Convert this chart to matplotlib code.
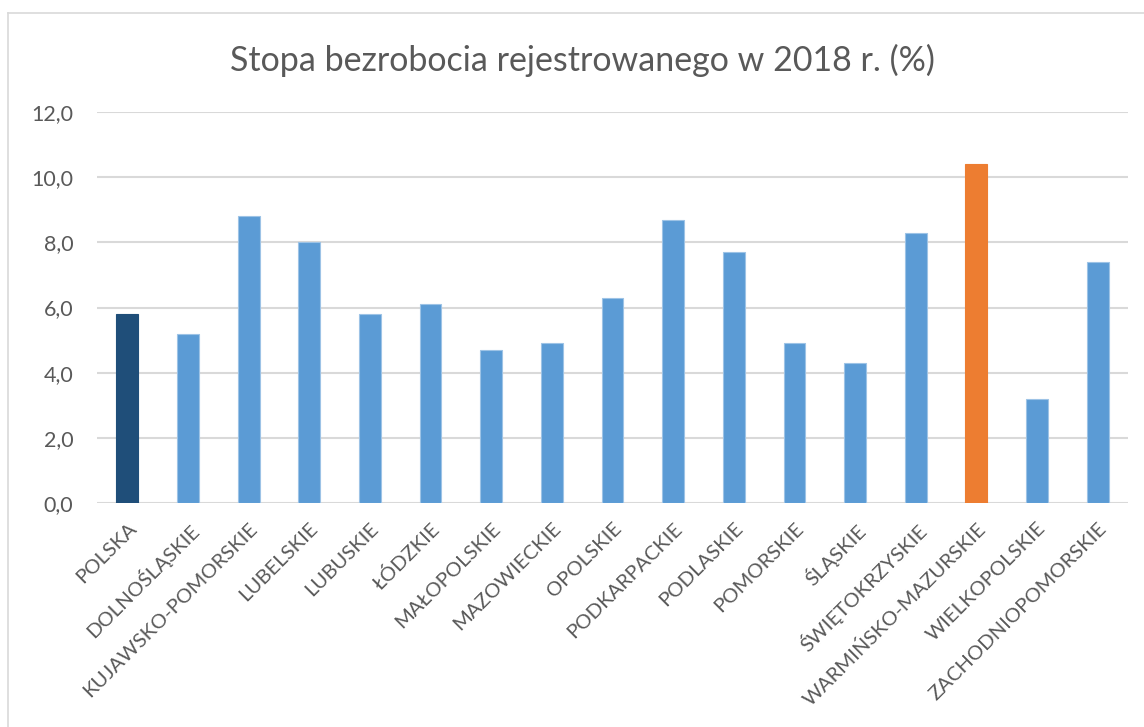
import matplotlib
matplotlib.use("Agg")
import matplotlib.pyplot as plt
from matplotlib.lines import Line2D

categories = ["POLSKA", "DOLNOŚLĄSKIE", "KUJAWSKO-POMORSKIE", "LUBELSKIE", "LUBUSKIE",
              "ŁÓDZKIE", "MAŁOPOLSKIE", "MAZOWIECKIE", "OPOLSKIE", "PODKARPACKIE",
              "PODLASKIE", "POMORSKIE", "ŚLĄSKIE", "ŚWIĘTOKRZYSKIE", "WARMIŃSKO-MAZURSKIE",
              "WIELKOPOLSKIE", "ZACHODNIOPOMORSKIE"]
values = [5.8, 5.2, 8.8, 8.0, 5.8, 6.1, 4.7, 4.9, 6.3, 8.7, 7.7, 4.9, 4.3, 8.3, 10.4, 3.2, 7.4]
yticks = [0, 2, 4, 6, 8, 10, 12]
ytick_labels = ["0,0", "2,0", "4,0", "6,0", "8,0", "10,0", "12,0"]
title = "Stopa bezrobocia rejestrowanego w 2018 r. (%)"

plt.rcParams['font.family'] = ['Lato', 'DejaVu Sans']

W, H = 1144, 727
fig = plt.figure(figsize=(W / 100, H / 100), dpi=100)
fig.patch.set_facecolor('white')

# chart area border
fig.add_artist(Line2D([8 / W, 8 / W], [0, 1 - 13 / H], transform=fig.transFigure, color='#D9D9D9', lw=1.2))
fig.add_artist(Line2D([8 / W, 1], [1 - 13 / H, 1 - 13 / H], transform=fig.transFigure, color='#D9D9D9', lw=1.2))

ax = fig.add_axes([97 / W, 1 - 503 / H, (1128 - 97) / W, (503 - 112) / H])

colors = ['#5B9BD5'] * len(categories)
colors[0] = '#1F4E79'
colors[categories.index("WARMIŃSKO-MAZURSKIE")] = '#ED7D31'
edges = ['#9DC3E6'] * len(categories)
edges[0] = '#1F4E79'
edges[categories.index("WARMIŃSKO-MAZURSKIE")] = '#ED7D31'

x = list(range(len(categories)))
ax.bar(x, values, width=0.36, color=colors, edgecolor=edges, linewidth=0.8, zorder=3)

ax.set_xlim(-0.5, len(categories) - 0.5)
ax.set_ylim(0, 12)
ax.set_yticks(yticks)
ax.set_yticklabels(ytick_labels, fontsize=15.5, color='#595959')
ax.yaxis.grid(True, color='#D9D9D9', linewidth=1.5, zorder=0)
ax.set_axisbelow(True)
for s in ax.spines.values():
    s.set_visible(False)
ax.tick_params(axis='both', length=0)
ax.tick_params(axis='y', pad=17)

ax.set_xticks(x)
ax.set_xticklabels(categories, rotation=45, ha='right', rotation_mode='anchor',
                   fontsize=14.6, color='#595959')
ax.tick_params(axis='x', pad=12)

fig.text(582 / W, 1 - 60 / H, title, ha='center', va='center', fontsize=24.5, color='#595959')

fig.savefig('out.png', dpi=100, facecolor='white')
